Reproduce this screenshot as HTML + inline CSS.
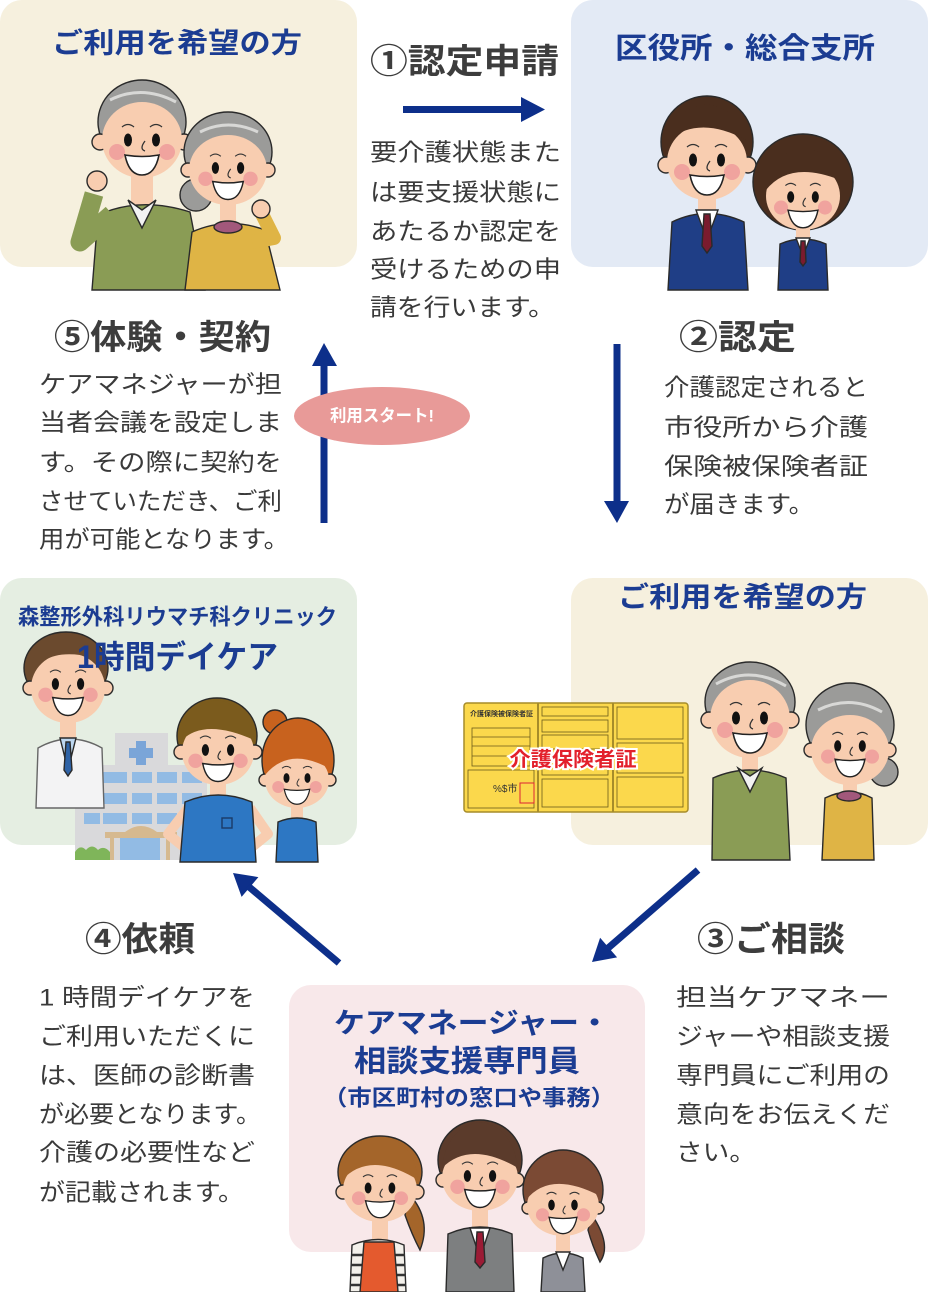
<!DOCTYPE html>
<html><head><meta charset="utf-8"><style>
html,body{margin:0;padding:0;background:#fff;}
svg{display:block;}
text{font-family:"Liberation Sans","Noto Sans CJK JP",sans-serif;}
</style></head><body>
<svg width="928" height="1292" viewBox="0 0 928 1292" xmlns="http://www.w3.org/2000/svg">
<defs>
<g id="face">
  <path d="M-20,-13 Q-14,-18 -8,-13" fill="none" stroke="#333" stroke-width="1.3"/>
  <path d="M8,-13 Q14,-18 20,-13" fill="none" stroke="#333" stroke-width="1.3"/>
  <ellipse cx="-14" cy="0" rx="4" ry="6.5" fill="#111"/>
  <ellipse cx="14" cy="0" rx="4" ry="6.5" fill="#111"/>
  <circle cx="-25" cy="12" r="8" fill="#ee9b9b" opacity="0.85"/>
  <circle cx="25" cy="12" r="8" fill="#ee9b9b" opacity="0.85"/>
  <path d="M3,1 Q-3,9 3,11" fill="none" stroke="#333" stroke-width="1.3"/>
  <path d="M-17,15 Q0,18 17,15 Q13,35 0,35 Q-13,35 -17,15Z" fill="#fff" stroke="#222" stroke-width="1.6"/>
</g>
</defs>

<!-- boxes -->
<rect x="0" y="0" width="357" height="267" rx="22" fill="#f6f0de"/>
<rect x="571" y="0" width="357" height="267" rx="22" fill="#e3eaf5"/>
<rect x="0" y="578" width="357" height="267" rx="22" fill="#e5eee2"/>
<rect x="571" y="578" width="357" height="267" rx="22" fill="#f6f0de"/>
<rect x="289" y="985" width="356" height="267" rx="22" fill="#f8e8ea"/>

<!-- arrows -->
<g fill="#0d2f8a">
  <rect x="403" y="106" width="122" height="7"/>
  <polygon points="521,97 545,109.5 521,122"/>
  <rect x="320.5" y="362" width="7" height="161"/>
  <polygon points="312,366 324,343 337,366"/>
  <rect x="613.5" y="344" width="7" height="160"/>
  <polygon points="604,501 617,523 629,501"/>
  <polygon points="258.4,877.1 233,873 241.6,896.9"/>
  <polygon points="617.1,957.4 592,962 600.1,937.8"/>
</g>
<g stroke="#0d2f8a" stroke-width="7" stroke-linecap="butt">
  <line x1="339" y1="963" x2="248" y2="886"/>
  <line x1="698" y1="870" x2="607" y2="949"/>
</g>

<!-- pink ellipse -->
<ellipse cx="382" cy="416" rx="88" ry="29" fill="#e89a98"/>
<text x="382" y="416" text-anchor="middle" dominant-baseline="central" font-size="17" font-weight="700" fill="#fff" textLength="104" lengthAdjust="spacingAndGlyphs">利用スタート!</text>

<!-- blue titles -->
<g fill="#1b3c92" font-weight="700">
  <text x="52" y="43" font-size="28" dominant-baseline="central" textLength="250" lengthAdjust="spacingAndGlyphs">ご利用を希望の方</text>
  <text x="615" y="49" font-size="29" dominant-baseline="central" textLength="260" lengthAdjust="spacingAndGlyphs">区役所・総合支所</text>
  <text x="18" y="617" font-size="22" dominant-baseline="central" textLength="319" lengthAdjust="spacingAndGlyphs">森整形外科リウマチ科クリニック</text>
  <text x="618" y="597" font-size="28" dominant-baseline="central" textLength="249" lengthAdjust="spacingAndGlyphs">ご利用を希望の方</text>
  <text x="334" y="1023" font-size="28" dominant-baseline="central" textLength="276" lengthAdjust="spacingAndGlyphs">ケアマネージャー・</text>
  <text x="354" y="1062" font-size="30" dominant-baseline="central" textLength="226" lengthAdjust="spacingAndGlyphs">相談支援専門員</text>
  <text x="323" y="1098" font-size="22" dominant-baseline="central" textLength="292" lengthAdjust="spacingAndGlyphs">（市区町村の窓口や事務）</text>
</g>

<!-- step headings -->
<g fill="#3d3d3d" font-weight="700" font-size="34">
  <text x="370" y="62" dominant-baseline="central" textLength="189" lengthAdjust="spacingAndGlyphs">①認定申請</text>
  <text x="54" y="338" dominant-baseline="central" textLength="217" lengthAdjust="spacingAndGlyphs">⑤体験・契約</text>
  <text x="679" y="338" dominant-baseline="central" textLength="117" lengthAdjust="spacingAndGlyphs">②認定</text>
  <text x="85" y="940" dominant-baseline="central" textLength="110" lengthAdjust="spacingAndGlyphs">④依頼</text>
  <text x="697" y="940" dominant-baseline="central" textLength="148" lengthAdjust="spacingAndGlyphs">③ご相談</text>
</g>

<!-- paragraphs -->
<g fill="#3a3a3a" font-size="24" dominant-baseline="central">
  <text x="370" y="153" dominant-baseline="central" textLength="191" lengthAdjust="spacingAndGlyphs">要介護状態また</text>
  <text x="370" y="193" dominant-baseline="central" textLength="191" lengthAdjust="spacingAndGlyphs">は要支援状態に</text>
  <text x="370" y="232" dominant-baseline="central" textLength="191" lengthAdjust="spacingAndGlyphs">あたるか認定を</text>
  <text x="370" y="270" dominant-baseline="central" textLength="191" lengthAdjust="spacingAndGlyphs">受けるための申</text>
  <text x="370" y="308" dominant-baseline="central" textLength="185" lengthAdjust="spacingAndGlyphs">請を行います。</text>

  <text x="39" y="385" dominant-baseline="central" textLength="243" lengthAdjust="spacingAndGlyphs">ケアマネジャーが担</text>
  <text x="39" y="423" dominant-baseline="central" textLength="243" lengthAdjust="spacingAndGlyphs">当者会議を設定しま</text>
  <text x="39" y="463" dominant-baseline="central" textLength="243" lengthAdjust="spacingAndGlyphs">す。その際に契約を</text>
  <text x="39" y="502" dominant-baseline="central" textLength="243" lengthAdjust="spacingAndGlyphs">させていただき、ご利</text>
  <text x="39" y="540" dominant-baseline="central" textLength="250" lengthAdjust="spacingAndGlyphs">用が可能となります。</text>

  <text x="664" y="388" dominant-baseline="central" textLength="204" lengthAdjust="spacingAndGlyphs">介護認定されると</text>
  <text x="664" y="428" dominant-baseline="central" textLength="204" lengthAdjust="spacingAndGlyphs">市役所から介護</text>
  <text x="664" y="467" dominant-baseline="central" textLength="204" lengthAdjust="spacingAndGlyphs">保険被保険者証</text>
  <text x="664" y="505" dominant-baseline="central" textLength="150" lengthAdjust="spacingAndGlyphs">が届きます。</text>

  <text x="39" y="998" dominant-baseline="central" textLength="216" lengthAdjust="spacingAndGlyphs">1 時間デイケアを</text>
  <text x="39" y="1037" dominant-baseline="central" textLength="216" lengthAdjust="spacingAndGlyphs">ご利用いただくに</text>
  <text x="39" y="1076" dominant-baseline="central" textLength="216" lengthAdjust="spacingAndGlyphs">は、医師の診断書</text>
  <text x="39" y="1115" dominant-baseline="central" textLength="222" lengthAdjust="spacingAndGlyphs">が必要となります。</text>
  <text x="39" y="1153" dominant-baseline="central" textLength="216" lengthAdjust="spacingAndGlyphs">介護の必要性など</text>
  <text x="39" y="1193" dominant-baseline="central" textLength="205" lengthAdjust="spacingAndGlyphs">が記載されます。</text>

  <text x="676" y="998" dominant-baseline="central" textLength="214" lengthAdjust="spacingAndGlyphs">担当ケアマネー</text>
  <text x="676" y="1037" dominant-baseline="central" textLength="214" lengthAdjust="spacingAndGlyphs">ジャーや相談支援</text>
  <text x="676" y="1076" dominant-baseline="central" textLength="214" lengthAdjust="spacingAndGlyphs">専門員にご利用の</text>
  <text x="676" y="1115" dominant-baseline="central" textLength="214" lengthAdjust="spacingAndGlyphs">意向をお伝えくだ</text>
  <text x="676" y="1153" dominant-baseline="central" textLength="80" lengthAdjust="spacingAndGlyphs">さい。</text>
</g>

<!-- ===== Top-left: elderly couple ===== -->
<g stroke="#2a2a2a" stroke-width="1.4">
  <rect x="131" y="168" width="22" height="40" fill="#f8cdb0" stroke="none"/>
  <path d="M98,215 Q140,196 190,212 L205,290 L92,290 Z" fill="#8a9c55"/>
  <path d="M112,214 L80,242 L94,194" fill="none" stroke="#8a9c55" stroke-width="19" stroke-linejoin="round"/>
  <circle cx="97" cy="181" r="10" fill="#f8cdb0"/>
  <path d="M128,200 L142,228 L156,200 L142,210 Z" fill="#f2f2f2"/>
  <ellipse cx="142" cy="122" rx="44" ry="42" fill="#9b9b99"/>
  <circle cx="100" cy="142" r="8" fill="#f8cdb0"/>
  <circle cx="184" cy="142" r="8" fill="#f8cdb0"/>
  <ellipse cx="142" cy="140" rx="40" ry="38" fill="#f8cdb0" stroke="none"/>
  <path d="M110,100 Q142,84 176,102" fill="none" stroke="#d8d8d6" stroke-width="3"/>
</g>
<use href="#face" transform="translate(142,140)"/>
<g stroke="#2a2a2a" stroke-width="1.4">
  <circle cx="196" cy="195" r="16" fill="#9b9b99"/>
  <rect x="220" y="196" width="16" height="28" fill="#f8cdb0" stroke="none"/>
  <path d="M192,232 Q228,216 265,230 L280,290 L185,290 Z" fill="#dfb445"/>
  <path d="M252,242 L274,238 L262,214" fill="none" stroke="#dfb445" stroke-width="14" stroke-linejoin="round"/>
  <circle cx="261" cy="209" r="9" fill="#f8cdb0"/>
  <ellipse cx="228" cy="227" rx="14" ry="6" fill="#a2587b"/>
  <ellipse cx="228" cy="152" rx="44" ry="40" fill="#9b9b99"/>
  <circle cx="188" cy="170" r="7" fill="#f8cdb0"/>
  <circle cx="268" cy="170" r="7" fill="#f8cdb0"/>
  <ellipse cx="228" cy="170" rx="39" ry="35" fill="#f8cdb0" stroke="none"/>
  <path d="M200,132 Q228,118 258,132" fill="none" stroke="#d8d8d6" stroke-width="3"/>
</g>
<use href="#face" transform="translate(228,168) scale(0.9)"/>

<!-- ===== Top-right: staff ===== -->
<g stroke="#2a2a2a" stroke-width="1.4">
  <rect x="698" y="192" width="18" height="24" fill="#f8cdb0" stroke="none"/>
  <path d="M672,222 Q707,205 744,222 L748,290 L668,290 Z" fill="#1f3e86"/>
  <path d="M696,210 L707,240 L718,210 Z" fill="#fff"/>
  <path d="M704,214 L710,214 L712,246 L707,253 L702,246 Z" fill="#7a1b2e"/>
  <ellipse cx="707" cy="142" rx="46" ry="46" fill="#4a2e1e"/>
  <circle cx="666" cy="165" r="8" fill="#f8cdb0"/>
  <circle cx="748" cy="165" r="8" fill="#f8cdb0"/>
  <ellipse cx="707" cy="162" rx="40" ry="38" fill="#f8cdb0" stroke="none"/>
  <path d="M668,140 Q700,115 746,140 Q740,110 707,104 Q672,110 668,140Z" fill="#4a2e1e" stroke="none"/>

  <ellipse cx="803" cy="182" rx="50" ry="48" fill="#4a2e1e"/>
  <rect x="796" y="222" width="14" height="20" fill="#f8cdb0" stroke="none"/>
  <path d="M780,244 Q803,234 826,244 L828,290 L778,290 Z" fill="#1f3e86"/>
  <path d="M796,238 L803,256 L810,238 Z" fill="#fff"/>
  <path d="M801,241 L805,241 L806,262 L803,266 L800,262 Z" fill="#7a1b2e"/>
  <ellipse cx="803" cy="196" rx="37" ry="34" fill="#f8cdb0" stroke="none"/>
  <path d="M766,190 Q790,160 840,180 Q830,150 803,148 Q772,152 766,190Z" fill="#4a2e1e" stroke="none"/>
</g>
<use href="#face" transform="translate(707,160)"/>
<use href="#face" transform="translate(803,197) scale(0.88)"/>

<!-- ===== Middle-left: clinic ===== -->
<g>
  <rect x="115" y="733" width="53" height="34" fill="#d9d9db"/>
  <rect x="136" y="741" width="10" height="24" fill="#7aa5d8"/>
  <rect x="129" y="748" width="24" height="10" fill="#7aa5d8"/>
  <rect x="75" y="765" width="132" height="95" fill="#d9d9db"/>
  <g fill="#92bbe4">
    <rect x="103" y="772" width="24" height="11"/><rect x="132" y="772" width="20" height="11"/><rect x="157" y="772" width="20" height="11"/><rect x="182" y="772" width="20" height="11"/>
    <rect x="103" y="793" width="24" height="11"/><rect x="132" y="793" width="20" height="11"/><rect x="157" y="793" width="20" height="11"/><rect x="182" y="793" width="20" height="11"/>
    <rect x="84" y="813" width="16" height="11"/><rect x="103" y="813" width="24" height="11"/><rect x="132" y="813" width="20" height="11"/><rect x="157" y="813" width="20" height="11"/>
  </g>
  <path d="M105,832 L177,832 L177,838 L105,838 Z" fill="#d6b98f"/>
  <path d="M125,832 Q141,820 157,832 Z" fill="#d6b98f"/>
  <rect x="120" y="838" width="40" height="22" fill="#92bbe4"/>
  <rect x="110" y="838" width="4" height="22" fill="#d6b98f"/><rect x="166" y="838" width="4" height="22" fill="#d6b98f"/>
  <path d="M75,860 L75,852 Q80,844 86,850 Q92,843 98,850 Q104,845 110,852 L110,860Z" fill="#7fb55a"/>
</g>
<g stroke="#2a2a2a" stroke-width="1.4">
  <rect x="60" y="712" width="16" height="28" fill="#f8cdb0" stroke="none"/>
  <path d="M38,748 Q70,730 102,748 L104,808 L36,808 Z" fill="#f3f3f4" stroke="#666"/>
  <path d="M60,738 L68,770 L76,738 Z" fill="#bcd6ef"/>
  <path d="M66,742 L70,742 L72,770 L68,776 L64,770 Z" fill="#2f63a6"/>
  <ellipse cx="66" cy="668" rx="42" ry="36" fill="#6b4a2e"/>
  <circle cx="30" cy="688" r="7" fill="#f8cdb0"/>
  <circle cx="106" cy="688" r="7" fill="#f8cdb0"/>
  <ellipse cx="68" cy="688" rx="37" ry="35" fill="#f8cdb0" stroke="none"/>
  <path d="M30,680 Q40,650 80,655 Q100,660 106,680 Q104,640 66,633 Q30,640 30,680Z" fill="#6b4a2e" stroke="none"/>

  <rect x="210" y="778" width="16" height="24" fill="#f8cdb0" stroke="none"/>
  <path d="M188,808 L168,834 L190,852" fill="none" stroke="#f8cdb0" stroke-width="10" stroke-linejoin="round"/>
  <path d="M250,808 L268,834 L246,852" fill="none" stroke="#f8cdb0" stroke-width="10" stroke-linejoin="round"/>
  <path d="M185,802 Q218,788 252,802 L256,862 L180,862 Z" fill="#2d77c3"/>
  <rect x="222" y="818" width="10" height="10" fill="none" stroke="#1a3a66"/>
  <ellipse cx="217" cy="736" rx="40" ry="38" fill="#7b5b1d"/>
  <circle cx="181" cy="752" r="7" fill="#f8cdb0"/>
  <circle cx="255" cy="752" r="7" fill="#f8cdb0"/>
  <ellipse cx="218" cy="752" rx="36" ry="33" fill="#f8cdb0" stroke="none"/>
  <path d="M182,740 Q205,718 254,740 Q248,705 217,700 Q186,705 182,740Z" fill="#7b5b1d" stroke="none"/>

  <circle cx="275" cy="722" r="12" fill="#c8621e"/>
  <rect x="291" y="800" width="12" height="20" fill="#f8cdb0" stroke="none"/>
  <path d="M278,822 Q297,814 316,822 L318,862 L276,862 Z" fill="#2d77c3"/>
  <ellipse cx="298" cy="760" rx="36" ry="42" fill="#c8621e"/>
  <circle cx="265" cy="780" r="6" fill="#f8cdb0"/>
  <circle cx="330" cy="780" r="6" fill="#f8cdb0"/>
  <ellipse cx="297" cy="780" rx="32" ry="28" fill="#f8cdb0" stroke="none"/>
  <path d="M265,775 Q290,745 332,770 Q328,725 298,720 Q266,728 265,775Z" fill="#c8621e" stroke="none"/>
</g>
<use href="#face" transform="translate(68,684) scale(0.9)"/>
<use href="#face" transform="translate(218,750) scale(0.9)"/>
<use href="#face" transform="translate(297,778) scale(0.75)"/>
<text x="77" y="657" font-size="32" font-weight="700" fill="#1b3c92" dominant-baseline="central" textLength="201" lengthAdjust="spacingAndGlyphs">1時間デイケア</text>

<!-- ===== Middle-right: card + elderly ===== -->
<g>
  <rect x="464" y="703" width="224" height="109" rx="3" fill="#fbd84c" stroke="#a68c2a" stroke-width="1.5"/>
  <line x1="538" y1="703" x2="538" y2="812" stroke="#a68c2a" stroke-width="2"/>
  <line x1="613" y1="703" x2="613" y2="812" stroke="#a68c2a" stroke-width="2"/>
  <g fill="none" stroke="#6b5a1a" stroke-width="0.8">
    <rect x="472" y="728" width="58" height="38"/>
    <line x1="472" y1="737" x2="530" y2="737"/><line x1="472" y1="746" x2="530" y2="746"/><line x1="472" y1="756" x2="530" y2="756"/>
    <rect x="468" y="770" width="66" height="38"/>
    <rect x="542" y="707" width="66" height="9"/><rect x="542" y="720" width="66" height="12"/><rect x="542" y="735" width="66" height="14"/>
    <rect x="542" y="753" width="66" height="22"/><rect x="542" y="779" width="66" height="28"/>
    <rect x="617" y="707" width="66" height="32"/><rect x="617" y="743" width="66" height="30"/><rect x="617" y="777" width="66" height="30"/>
  </g>
  <text x="470" y="716" font-size="7" fill="#333" font-weight="700">介護保険被保険者証</text>
  <text x="493" y="792" font-size="10" fill="#333">%$市</text>
  <rect x="520" y="783" width="14" height="20" fill="none" stroke="#d23" stroke-width="1"/>
  <text x="573" y="760" text-anchor="middle" dominant-baseline="central" font-size="20" font-weight="700" fill="#e3202b" stroke="#fff" stroke-width="4" paint-order="stroke" textLength="127" lengthAdjust="spacingAndGlyphs">介護保険者証</text>
</g>
<g stroke="#2a2a2a" stroke-width="1.4">
  <rect x="742" y="748" width="16" height="26" fill="#f8cdb0" stroke="none"/>
  <path d="M713,778 Q750,762 786,778 L790,860 L712,860 Z" fill="#8a9c55"/>
  <path d="M738,768 L750,792 L762,768 L750,776 Z" fill="#f2f2f2"/>
  <ellipse cx="750" cy="702" rx="45" ry="40" fill="#9b9b99"/>
  <circle cx="709" cy="720" r="8" fill="#f8cdb0"/>
  <circle cx="791" cy="720" r="8" fill="#f8cdb0"/>
  <ellipse cx="750" cy="719" rx="40" ry="39" fill="#f8cdb0" stroke="none"/>
  <path d="M716,684 Q750,665 786,686" fill="none" stroke="#d8d8d6" stroke-width="3"/>

  <circle cx="884" cy="772" r="14" fill="#9b9b99"/>
  <rect x="843" y="780" width="14" height="18" fill="#f8cdb0" stroke="none"/>
  <path d="M825,798 Q850,786 872,798 L874,860 L822,860 Z" fill="#dfb445"/>
  <ellipse cx="849" cy="796" rx="12" ry="5" fill="#a2587b"/>
  <ellipse cx="850" cy="725" rx="44" ry="42" fill="#9b9b99"/>
  <circle cx="811" cy="750" r="7" fill="#f8cdb0"/>
  <circle cx="889" cy="750" r="7" fill="#f8cdb0"/>
  <ellipse cx="850" cy="750" rx="39" ry="35" fill="#f8cdb0" stroke="none"/>
  <path d="M818,710 Q850,694 882,712" fill="none" stroke="#d8d8d6" stroke-width="3"/>
</g>
<use href="#face" transform="translate(750,718)"/>
<use href="#face" transform="translate(850,746) scale(0.88)"/>

<!-- ===== Bottom: care managers ===== -->
<g stroke="#2a2a2a" stroke-width="1.4">
  <path d="M410,1195 Q432,1220 420,1250 Q412,1235 405,1215Z" fill="#a4652a"/>
  <rect x="372" y="1212" width="16" height="30" fill="#f8cdb0" stroke="none"/>
  <path d="M352,1245 Q378,1234 404,1245 L406,1292 L350,1292 Z" fill="#f3f0ea"/>
  <g stroke="#333" stroke-width="2.5"><line x1="352" y1="1255" x2="405" y2="1255"/><line x1="351" y1="1265" x2="405" y2="1265"/><line x1="350" y1="1275" x2="406" y2="1275"/><line x1="350" y1="1285" x2="406" y2="1285"/></g>
  <path d="M364,1242 L394,1242 L398,1292 L360,1292 Z" fill="#e45a2e"/>
  <ellipse cx="380" cy="1172" rx="42" ry="36" fill="#a4652a"/>
  <circle cx="343" cy="1192" r="7" fill="#f8cdb0"/>
  <circle cx="417" cy="1192" r="7" fill="#f8cdb0"/>
  <ellipse cx="380" cy="1190" rx="37" ry="32" fill="#f8cdb0" stroke="none"/>
  <path d="M342,1180 Q370,1150 418,1180 Q414,1140 380,1137 Q344,1142 342,1180Z" fill="#a4652a" stroke="none"/>

  <rect x="472" y="1200" width="16" height="32" fill="#f8cdb0" stroke="none"/>
  <path d="M448,1234 Q480,1220 512,1234 L514,1292 L446,1292 Z" fill="#7d7f80"/>
  <path d="M470,1228 L480,1258 L490,1228 Z" fill="#fff"/>
  <path d="M477,1232 L483,1232 L485,1262 L480,1268 L475,1262 Z" fill="#9b1b35"/>
  <ellipse cx="480" cy="1160" rx="42" ry="40" fill="#5b3b2b"/>
  <circle cx="443" cy="1180" r="7" fill="#f8cdb0"/>
  <circle cx="517" cy="1180" r="7" fill="#f8cdb0"/>
  <ellipse cx="480" cy="1178" rx="38" ry="33" fill="#f8cdb0" stroke="none"/>
  <path d="M442,1168 Q470,1140 518,1168 Q512,1126 480,1122 Q446,1128 442,1168Z" fill="#5b3b2b" stroke="none"/>

  <path d="M592,1215 Q612,1245 600,1262 Q592,1245 588,1230Z" fill="#7b4a34"/>
  <rect x="556" y="1228" width="14" height="28" fill="#f8cdb0" stroke="none"/>
  <path d="M543,1258 Q563,1248 583,1258 L585,1292 L541,1292 Z" fill="#8e9098"/>
  <path d="M556,1252 L563,1270 L570,1252 Z" fill="#fff"/>
  <ellipse cx="563" cy="1190" rx="40" ry="40" fill="#7b4a34"/>
  <circle cx="528" cy="1208" r="6" fill="#f8cdb0"/>
  <circle cx="598" cy="1208" r="6" fill="#f8cdb0"/>
  <ellipse cx="563" cy="1206" rx="36" ry="30" fill="#f8cdb0" stroke="none"/>
  <path d="M526,1200 Q550,1170 600,1196 Q598,1156 563,1152 Q528,1158 526,1200Z" fill="#7b4a34" stroke="none"/>
</g>
<use href="#face" transform="translate(380,1188) scale(0.85)"/>
<use href="#face" transform="translate(480,1176) scale(0.9)"/>
<use href="#face" transform="translate(563,1205) scale(0.82)"/>
</svg>
</body></html>
